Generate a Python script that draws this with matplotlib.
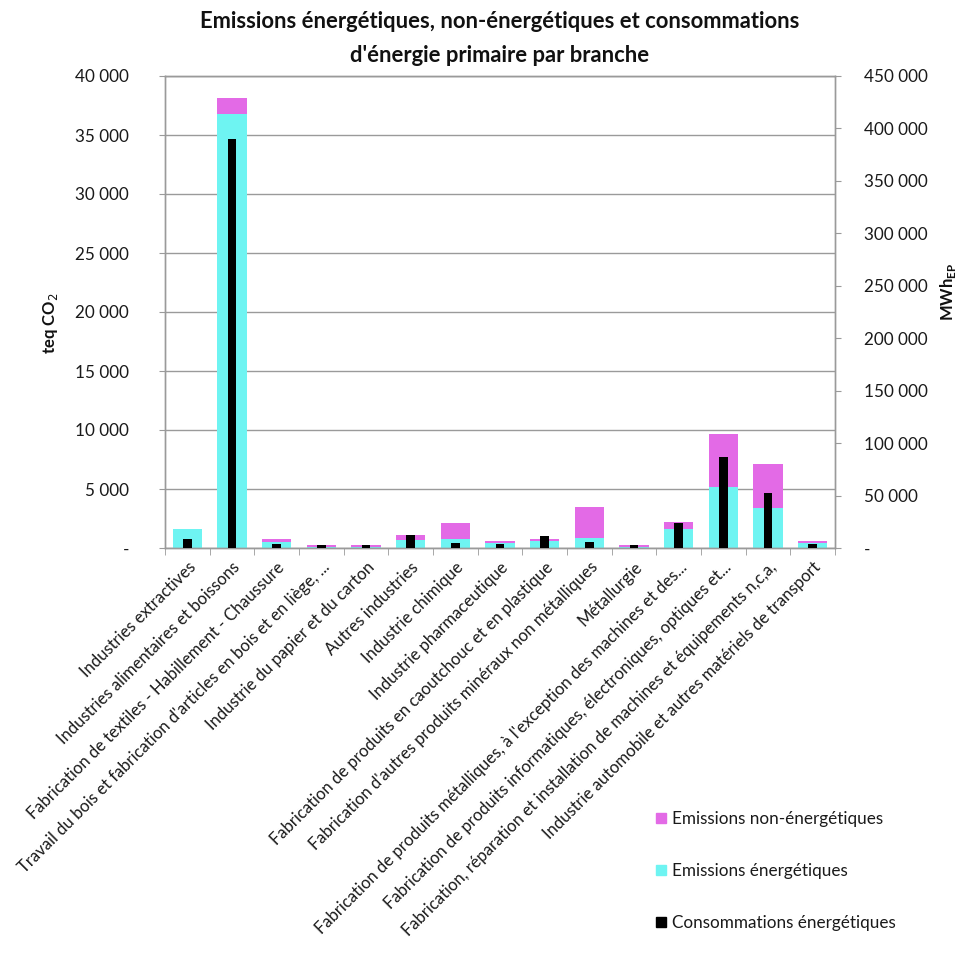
import matplotlib
matplotlib.use("Agg")
import matplotlib.pyplot as plt
from matplotlib.patches import Patch
from matplotlib.ticker import FuncFormatter, MultipleLocator
import numpy as np

plt.rcParams['font.family'] = ['Lato', 'DejaVu Sans']

branches = [
    "Industries extractives",
    "Industries alimentaires et boissons",
    "Fabrication de textiles - Habillement - Chaussure",
    "Travail du bois et fabrication d'articles en bois et en liège, ...",
    "Industrie du papier et du carton",
    "Autres industries",
    "Industrie chimique",
    "Industrie pharmaceutique",
    "Fabrication de produits en caoutchouc et en plastique",
    "Fabrication d'autres produits minéraux non métalliques",
    "Métallurgie",
    "Fabrication de produits métalliques, à l'exception des machines et des...",
    "Fabrication de produits informatiques, électroniques, optiques et...",
    "Fabrication, réparation et installation de machines et équipements n,c,a,",
    "Industrie automobile et autres matériels de transport",
]

# teq CO2
emissions_energetiques = [1600, 36750, 500, 80, 80, 650, 740, 450, 590, 870, 80, 1630, 5130, 3410, 450]
emissions_non_energetiques = [0, 1350, 240, 170, 170, 470, 1370, 170, 170, 2620, 170, 590, 4510, 3720, 170]
# MWh EP
consommations_energetiques = [8500, 390000, 4000, 2500, 2500, 12500, 5000, 4000, 11500, 5400, 2500,
                              23800, 87000, 52000, 4000]

c_pink = '#E36AE6'
c_cyan = '#6EF4F2'
grid_c = '#9a9a9a'
txt_c = '#1a1a1a'

fig = plt.figure(figsize=(9.58, 9.60), dpi=100)
ax = fig.add_axes([165 / 958, 1 - 548 / 960, 670 / 958, 472 / 960])
x = np.arange(len(branches))

ax.bar(x, emissions_energetiques, width=0.65, color=c_cyan, zorder=2)
ax.bar(x, emissions_non_energetiques, width=0.65, bottom=emissions_energetiques,
       color=c_pink, zorder=2)
ax.set_xlim(-0.5, len(branches) - 0.5)
ax.set_ylim(0, 40000)
ax.yaxis.set_major_locator(MultipleLocator(5000))
ax.grid(axis='y', color=grid_c, linewidth=1.0, zorder=0)

def fmt(v, _):
    if v == 0:
        return '-'
    return f"{int(v):,}".replace(',', ' ')

ax.yaxis.set_major_formatter(FuncFormatter(fmt))

ax2 = ax.twinx()
ax2.bar(x, consommations_energetiques, width=0.2, color='black', zorder=3)
ax2.set_ylim(0, 450000)
ax2.yaxis.set_major_locator(MultipleLocator(50000))
ax2.yaxis.set_major_formatter(FuncFormatter(fmt))

for a in (ax, ax2):
    for s in a.spines.values():
        s.set_color(grid_c)
        s.set_linewidth(1.0)
ax.tick_params(axis='y', length=4, color=grid_c, pad=22, labelsize=12.3, labelcolor=txt_c)
ax2.tick_params(axis='y', length=4, color=grid_c, pad=17, labelsize=12.3, labelcolor=txt_c)

# category labels at bar centres, tick marks between categories
ax.set_xticks(x)
ax.set_xticklabels(branches, rotation=45, ha='right', rotation_mode='anchor', fontsize=12,
                   color=txt_c)
ax.tick_params(axis='x', which='major', length=0, pad=8)
ax.set_xticks(np.arange(-0.5, len(branches), 1.0), minor=True)
ax.tick_params(axis='x', which='minor', length=5, color=grid_c)

fig.text(500 / 958, 1 - 22 / 960, "Emissions énergétiques, non-énergétiques et consommations",
         ha='center', va='center', fontsize=15.8, fontweight='bold', color='#111111')
fig.text(500 / 958, 1 - 55 / 960, "d'énergie primaire par branche",
         ha='center', va='center', fontsize=15.8, fontweight='bold', color='#111111')

fig.text(50 / 958, 1 - 323 / 960, "teq CO$_2$", rotation=90, ha='center', va='center',
         fontsize=12, fontweight='bold', color='#111111')
fig.text(948 / 958, 1 - 292 / 960, "MWh$_{\\mathregular{EP}}$", rotation=90, ha='center',
         va='center', fontsize=12, fontweight='bold', color='#111111')

handles = [Patch(color=c_pink), Patch(color=c_cyan), Patch(color='black')]
labels = ["Emissions non-énergétiques", "Emissions énergétiques", "Consommations énergétiques"]
fig.legend(handles, labels, loc='upper left', bbox_to_anchor=(641 / 958, 1 - 796 / 960),
           frameon=False, fontsize=12.3, handlelength=0.55, handleheight=0.55,
           handletextpad=0.35, labelspacing=2.1, labelcolor=txt_c)

fig.savefig("out.png", dpi=100)
